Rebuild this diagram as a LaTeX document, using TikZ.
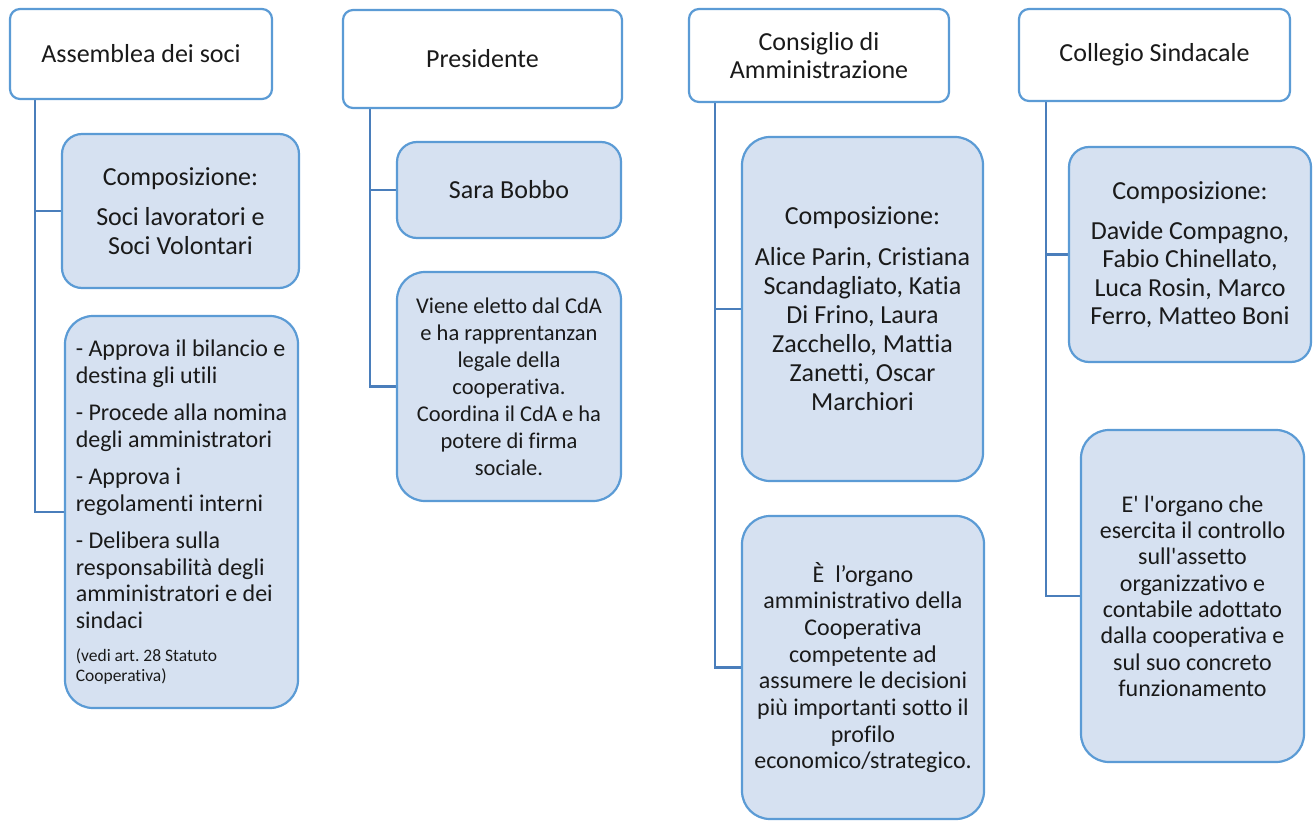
\documentclass[tikz,border=0pt]{standalone}
\usepackage{fontspec}
\setmainfont{Carlito}[Ligatures={TeXOff,NoCommon}]
\usetikzlibrary{backgrounds}
\definecolor{bord}{HTML}{5B9BD5}
\definecolor{connc}{HTML}{4A7EBB}
\definecolor{kidfill}{HTML}{D6E1F1}
\definecolor{txt}{HTML}{1A1A1A}
\frenchspacing
\begin{document}
\begin{tikzpicture}[x=1pt,y=-1pt,
  box/.style={draw=bord, line width=2.2pt, rounded corners=10pt, inner sep=0pt, align=center, text=txt, font=\fontsize{26}{28.5}\selectfont},
  head/.style={box, fill=white},
  kid/.style={box, fill=kidfill, rounded corners=20pt},
  bigkid/.style={kid, rounded corners=28pt},
  conn/.style={draw=connc, line width=2.6pt}]
\useasboundingbox (0,0) rectangle (1313,821);
% column 1
\node[head, minimum width=262pt, minimum height=90pt] (h1) at (141,54) {Assemblea dei soci};
\node[kid, minimum width=237pt, minimum height=154pt] (a1) at (180.5,211) {Composizione:\\[11.5pt] Soci lavoratori e\\ Soci Volontari};
\node[bigkid, minimum width=233pt, minimum height=392pt, align=left, font=\fontsize{24}{26.5}\selectfont] (a2) at (181.5,512) {- Approva il bilancio e\\ destina gli utili\\[11pt] - Procede alla nomina\\ degli amministratori\\[11pt] - Approva i\\ regolamenti interni\\[11pt] - Delibera sulla\\ responsabilità degli\\ amministratori e dei\\ sindaci\\[6.5pt] {\fontsize{17.5}{20}\selectfont (vedi art. 28 Statuto}\\[-6.5pt] {\fontsize{17.5}{20}\selectfont Cooperativa)}};
% column 2
\node[head, minimum width=279pt, minimum height=98pt] (h2) at (482.5,59) {Presidente};
\node[kid, minimum width=224pt, minimum height=96pt] (b1) at (509,190) {Sara Bobbo};
\node[bigkid, minimum width=224pt, minimum height=229pt, font=\fontsize{22.5}{27}\selectfont] (b2) at (509,386.5) {Viene eletto dal CdA\\ e ha rapprentanzan\\ legale della\\ cooperativa.\\ Coordina il CdA e ha\\ potere di firma\\ sociale.};
% column 3
\node[head, minimum width=260pt, minimum height=93pt] (h3) at (819,55.5) {Consiglio di\\ Amministrazione};
\node[bigkid, minimum width=241pt, minimum height=344pt, font=\fontsize{26}{29}\selectfont] (c1) at (862.5,309) {Composizione:\\[12pt] Alice Parin, Cristiana\\ Scandagliato, Katia\\ Di Frino, Laura\\ Zacchello, Mattia\\ Zanetti, Oscar\\ Marchiori};
\node[bigkid, minimum width=242pt, minimum height=303pt, font=\fontsize{24}{26.7}\selectfont] (c2) at (863,667.5) {È\ \ l’organo\\ amministrativo della\\ Cooperativa\\ competente ad\\ assumere le decisioni\\ più importanti sotto il\\ profilo\\ economico/strategico.};
% column 4
\node[head, minimum width=271pt, minimum height=92pt] (h4) at (1154.5,55) {Collegio Sindacale};
\node[kid, minimum width=242pt, minimum height=215pt] (d1) at (1190,254.5) {Composizione:\\[11.5pt] Davide Compagno,\\ Fabio Chinellato,\\ Luca Rosin, Marco\\ Ferro, Matteo Boni};
\node[bigkid, minimum width=223pt, minimum height=332pt, font=\fontsize{24}{26.3}\selectfont] (d2) at (1192.5,596) {E' l'organo che\\ esercita il controllo\\ sull'assetto\\ organizzativo e\\ contabile adottato\\ dalla cooperativa e\\ sul suo concreto\\ funzionamento};
% connectors
\begin{scope}[on background layer]
\draw[conn] ([xshift=26pt]h1.south west) |- (a1.west);
\draw[conn] ([xshift=26pt]h1.south west) |- (a2.west);
\draw[conn] ([xshift=28pt]h2.south west) |- (b1.west);
\draw[conn] ([xshift=28pt]h2.south west) |- (b2.west);
\draw[conn] ([xshift=27pt]h3.south west) |- (c1.west);
\draw[conn] ([xshift=27pt]h3.south west) |- (c2.west);
\draw[conn] ([xshift=28pt]h4.south west) |- (d1.west);
\draw[conn] ([xshift=28pt]h4.south west) |- (d2.west);
\end{scope}
\end{tikzpicture}
\end{document}
